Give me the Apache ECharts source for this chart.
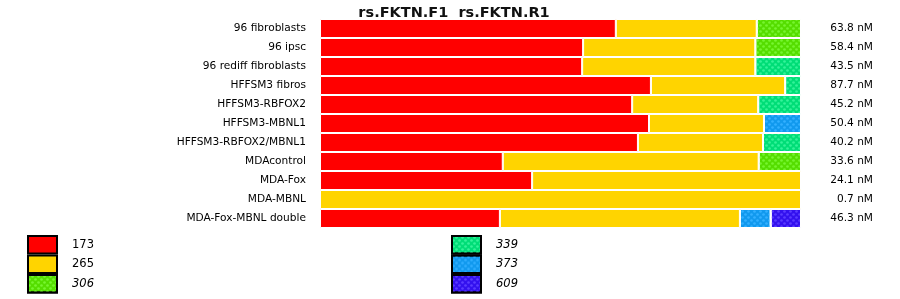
<!DOCTYPE html>
<html><head><meta charset="utf-8">
<script src="https://cdn.jsdelivr.net/npm/echarts@6/dist/echarts.min.js"></script>
<style>html,body{margin:0;padding:0;background:#fff}#c{width:900px;height:299px}</style>
</head><body><div id="c"></div>
<script>
const categories = ['96 fibroblasts','96 ipsc','96 rediff fibroblasts','HFFSM3 fibros','HFFSM3-RBFOX2','HFFSM3-MBNL1','HFFSM3-RBFOX2/MBNL1','MDAcontrol','MDA-Fox','MDA-MBNL','MDA-Fox-MBNL double'];
const concentrations = ['63.8 nM','58.4 nM','43.5 nM','87.7 nM','45.2 nM','50.4 nM','40.2 nM','33.6 nM','24.1 nM','0.7 nM','46.3 nM'];
const seriesNames = ['173','265','306','339','373','609'];
const s173 = [61.5, 54.7, 54.5, 68.8, 64.9, 68.4, 66.1, 38.0, 44.1, null, 37.4];
const s265 = [29.3, 35.8, 36.0, 27.9, 26.2, 23.9, 26.0, 53.2, 55.9, 100, 49.9];
const s306 = [9.2, 9.5, null, null, null, null, null, 8.8, null, null, null];
const s339 = [null, null, 9.5, 3.3, 8.9, null, 7.9, null, null, null, null];
const s373 = [null, null, null, null, null, 7.7, null, null, null, null, 6.4];
const s609 = [null, null, null, null, null, null, null, null, null, null, 6.3];
const seriesData = [s173, s265, s306, s339, s373, s609];
const colors = ['#ff0000', '#ffd400', '#55dd00', '#00dd77', '#1199ee', '#3311ee'];
const dotColors = [null, null, '#77f530', '#33f29a', '#33b0ff', '#5a3cff'];
const italic = [false, false, true, true, true, true];

const font = 'DejaVu Sans';
const series = seriesNames.map((n, i) => {
  const itemStyle = { color: colors[i], borderColor: '#fff', borderWidth: 1 };
  if (dotColors[i]) {
    itemStyle.decal = { symbol: 'circle', color: dotColors[i], symbolSize: 0.9,
      dashArrayX: [[3, 3], [0, 3, 3, 0]], dashArrayY: [3, 0], rotation: 0 };
  }
  return { name: n, type: 'bar', stack: 'all', barWidth: '100%', data: seriesData[i], itemStyle, emphasis: { disabled: true } };
});
const legendData = seriesNames.map((n, i) => ({ name: n, textStyle: { fontStyle: italic[i] ? 'italic' : 'normal' } }));
const legendBase = { orient: 'vertical', top: 235, height: 100, width: 200, itemWidth: 29, itemHeight: 17.5, itemGap: 0,
  icon: 'rect', padding: 0, textStyle: { fontFamily: font, fontSize: 11.5, color: '#000', padding: [0, 0, 0, 10] },
  itemStyle: { borderColor: '#000', borderWidth: 2 }, selectedMode: false };

const chart = echarts.init(document.getElementById('c'), null, { renderer: 'canvas' });
chart.setOption({
  animation: false,
  backgroundColor: '#fff',
  title: { text: 'rs.FKTN.F1  rs.FKTN.R1', left: 449, textAlign: 'center', top: 1,
    textStyle: { fontFamily: font, fontSize: 14.5, fontWeight: 'bold', color: '#111' } },
  grid: { left: 320, right: 99, top: 19, height: 209 },
  xAxis: { type: 'value', min: 0, max: 100, show: false },
  yAxis: [
    { type: 'category', data: categories, inverse: true, axisLine: { show: false }, axisTick: { show: false },
      axisLabel: { fontFamily: font, fontSize: 10.6, color: '#000', margin: 14 } },
    { type: 'category', data: concentrations, inverse: true, position: 'right', axisLine: { show: false }, axisTick: { show: false },
      axisLabel: { fontFamily: font, fontSize: 10.6, color: '#000', margin: 72, align: 'right' } }
  ],
  legend: [
    Object.assign({}, legendBase, { data: legendData.slice(0, 3), left: 27 }),
    Object.assign({}, legendBase, { data: legendData.slice(3), left: 451 })
  ],
  series
});
</script></body></html>
